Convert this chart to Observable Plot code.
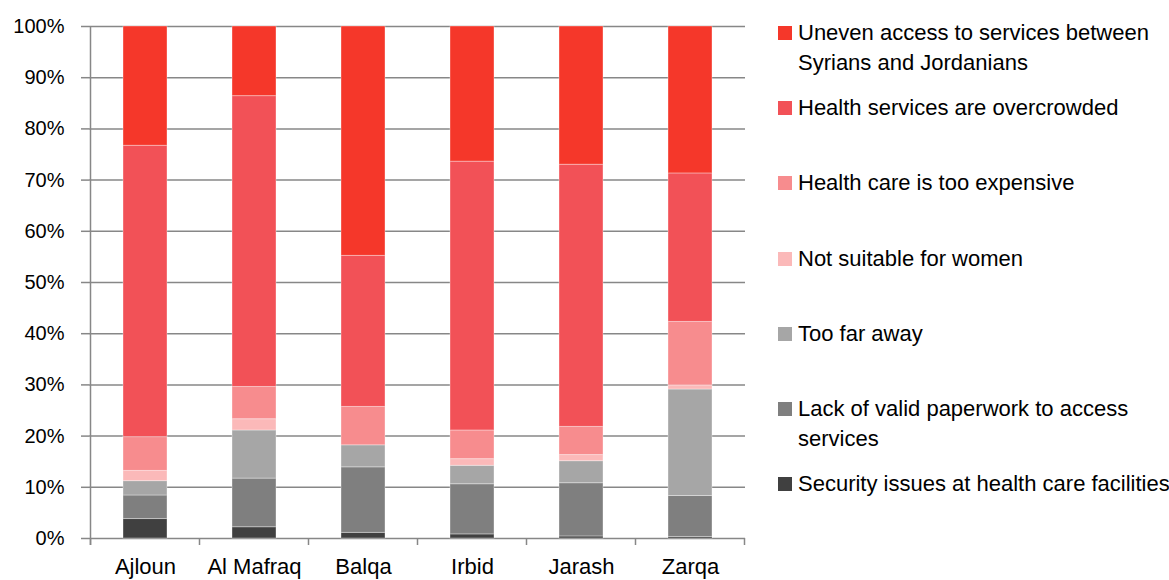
<!DOCTYPE html>
<html>
<head>
<meta charset="utf-8">
<script src="https://cdn.jsdelivr.net/npm/d3@7"></script>
<script src="https://cdn.jsdelivr.net/npm/@observablehq/plot@0.6"></script>
<style>
  html, body { margin: 0; padding: 0; background: #fff; }
  #wrap { position: relative; width: 1169px; height: 580px; overflow: hidden; font-family: "Liberation Sans", Arial, sans-serif; }
  #legend { position: absolute; left: 0; top: 0; }
  .item { position: absolute; left: 778px; width: 392px; font-size: 22px; line-height: 30px; color: #000; }
  .sw { position: absolute; left: 0; top: 8px; width: 14px; height: 14px; }
  .lbl { position: absolute; left: 20px; width: 372px; white-space: normal; }
</style>
</head>
<body>
<div id="wrap"><div id="chart"></div><div id="legend"></div></div>
<script>
// Categories (x axis)
const districts = ["Ajloun", "Al Mafraq", "Balqa", "Irbid", "Jarash", "Zarqa"];

// Series, listed bottom to top of the stack (percent of respondents)
const security     = [3.8, 2.2, 1.1, 0.8, 0.4, 0.3];
const paperwork    = [4.6, 9.5, 12.8, 9.8, 10.4, 8.0];
const tooFar       = [2.8, 9.4, 4.3, 3.6, 4.3, 20.8];
const notSuitable  = [2.0, 2.2, 0.0, 1.3, 1.2, 0.8];
const expensive    = [6.6, 6.3, 7.5, 5.6, 5.5, 12.4];
const overcrowded  = [56.9, 56.8, 29.5, 52.5, 51.2, 29.0];
const uneven       = [23.3, 13.6, 44.8, 26.4, 27.0, 28.7];

const seriesNames = [
  "Security issues at health care facilities",
  "Lack of valid paperwork to access services",
  "Too far away",
  "Not suitable for women",
  "Health care is too expensive",
  "Health services are overcrowded",
  "Uneven access to services between Syrians and Jordanians"
];
const seriesValues = [security, paperwork, tooFar, notSuitable, expensive, overcrowded, uneven];
const seriesColors = ["#404040", "#7f7f7f", "#a6a6a6", "#fbb9b9", "#f78c8e", "#f25157", "#f5372a"];

const yTicks = [0, 10, 20, 30, 40, 50, 60, 70, 80, 90, 100];

// Long-format table built from the arrays above
const data = [];
seriesNames.forEach((s, si) => {
  districts.forEach((d, di) => data.push({district: d, series: s, value: seriesValues[si][di]}));
});

const GRID = "#878787";

// Axis line and category-boundary tick marks, derived from the scales
function axisFrame(index, scales, values, dims) {
  const x = scales.x, y = scales.y;
  const step = x(districts[1]) - x(districts[0]);
  const bw = x.bandwidth ? x.bandwidth() : step * 0.4;
  const gap = (step - bw) / 2;
  const y0 = y(0);
  const g = d3.create("svg:g").attr("stroke", GRID).attr("stroke-width", 1.5).attr("fill", "none");
  const xs = districts.map(d => x(d) - gap);
  xs.push(x(districts[districts.length - 1]) + bw + gap);
  xs.forEach(px => g.append("line").attr("x1", px).attr("x2", px).attr("y1", y0).attr("y2", y0 + 7));
  g.append("line").attr("x1", xs[0]).attr("x2", xs[0]).attr("y1", y(100)).attr("y2", y0 + 7);
  return g.node();
}

const chart = Plot.plot({
  width: 1169,
  height: 580,
  marginTop: 26,
  marginBottom: 42,
  marginLeft: 89,
  marginRight: 424,
  style: {fontFamily: "'Liberation Sans', Arial, sans-serif", fontSize: "20px", color: "#000", background: "#fff"},
  x: {domain: districts, paddingInner: 0.6, paddingOuter: 0.3, label: null},
  y: {domain: [0, 100], label: null},
  color: {domain: seriesNames, range: seriesColors},
  marks: [
    Plot.gridY(yTicks, {stroke: GRID, strokeOpacity: 1, strokeWidth: 1.5}),
    Plot.barY(data, {
      x: "district", y: "value", fill: "series",
      order: seriesNames,
      stroke: "#fff", strokeOpacity: 0.35, strokeWidth: 1
    }),
    axisFrame,
    Plot.axisY(yTicks, {tickSize: 8, tickPadding: 17, tickFormat: d => d + "%", stroke: GRID, strokeWidth: 1.5, fill: "#000", fontSize: 20, label: null}),
    Plot.axisX({tickSize: 0, tickPadding: 20, fontSize: 22, fill: "#000", label: null})
  ]
});
document.getElementById("chart").appendChild(chart);

// Legend (top to bottom: top of stack first)
const legend = d3.select("#legend");
const legendOrder = seriesNames.map((s, i) => i).reverse();
legendOrder.forEach((si, k) => {
  const item = legend.append("div").attr("class", "item").style("top", (18 + k * 75.2) + "px");
  item.append("div").attr("class", "sw").style("background", seriesColors[si]);
  item.append("div").attr("class", "lbl").text(seriesNames[si]);
});
</script>
</body>
</html>
